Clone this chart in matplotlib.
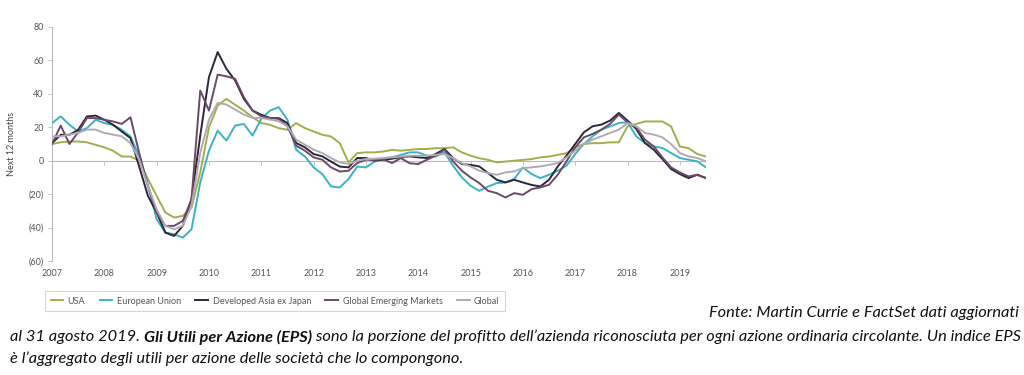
import matplotlib.pyplot as plt
import numpy as np
from matplotlib.ticker import FuncFormatter

# bimonthly observations, Jan 2007 .. mid 2019
dates = 2007 + np.arange(76) / 6.0

usa = [10, 11, 11.5, 11.5, 11, 9.5, 8, 6, 2.5, 2.5,
       0, -11, -21, -31, -34, -33, -28, -7, 20, 33,
       37, 33.5, 30, 26, 22.5, 21.5, 19.5, 18.5, 22.5, 19.5,
       17.5, 15.5, 14.5, 10.5, -1, 4.5, 5, 5, 5.5, 6.5,
       6, 6.5, 7, 7, 7.5, 7.5, 8, 5, 3, 1.5,
       0.5, -1, -0.5, 0, 0.5, 1, 2, 2.5, 3.5, 4.5,
       8, 10, 10.5, 10.5, 11, 11, 20.5, 22, 23.5, 23.5,
       23.5, 20.5, 8.5, 7.5, 4, 2.5]

eu = [22.5, 26.5, 21.5, 17.5, 19.5, 24.5, 22.5, 21.5, 18.5, 14.5,
      2.5, -15, -35, -43, -44, -46, -41, -13, 6, 18,
      12, 21, 22, 15, 25, 30, 32, 24.5, 6.5, 2.5,
      -4, -8, -15.4, -16, -11, -3.5, -4, -0.5, 1.5, 2,
      3.5, 5, 5, 3, 2.5, 5, -3, -10, -15, -18,
      -15.5, -13.4, -13, -11, -4, -8, -10.4, -8.4, -6, -3,
      4, 10, 14.6, 18.6, 20.5, 22.6, 23, 14.6, 10.6, 8.6,
      7.6, 4.6, 1.6, 0.6, -0.4, -4]

asia_ex_japan = [10.5, 15.5, 15.5, 18.5, 26.5, 27, 24.5, 21.5, 17.5, 13.5,
                 -3.5, -21, -31, -43, -45, -39, -23, 15, 50, 65,
                 55, 48, 37, 30, 27.5, 25.5, 25.5, 22.5, 10.6, 8,
                 4, 2.6, -0.5, -3.5, -4, 1.6, 1.6, 0, 0.6, 1.2,
                 2.2, 2.6, 2, 1.6, 4, 7, 1.6, -2, -2.5, -3.4,
                 -7.4, -11.4, -13, -11.4, -13, -14.5, -15.4, -11.4, -3.4, 3,
                 10, 17, 20.6, 21.6, 24, 28.6, 24, 19, 10.6, 6.6,
                 1, -5, -8, -10.4, -8.4, -10.4]

emerging = [10, 21, 10, 17, 25.5, 25.5, 24.5, 23.5, 22, 26,
            4.6, -15, -31, -39, -39, -36, -23, 42, 30, 51.5,
            50.5, 49, 38, 30, 26.6, 25.6, 25, 20.6, 9, 6,
            2, 0.6, -4, -6.5, -6, -1.4, 0.6, 0.5, 0.8, -1.4,
            1.6, -1.5, -2, 0.6, 3, 6.6, -0.4, -6, -10, -13.4,
            -18, -19.4, -22, -19.4, -20.4, -17, -16, -14.4, -8.4, -0.4,
            8, 14, 16, 18.6, 22, 27.6, 23, 20, 12.6, 8.6,
            2, -4, -7, -9.4, -8.4, -10.4]

world = [14.6, 14.6, 15.6, 16.6, 18.6, 18.6, 16.6, 15.6, 14.6, 10.6,
         0.6, -15, -29, -39, -41, -39, -27, 4.6, 24.6, 34.6,
         33.6, 30.6, 27.6, 25.6, 25.6, 24.6, 23.6, 20.6, 12.6, 9.6,
         6.6, 4.6, 1.6, -1, -2, 0, 1, 1.2, 1.6, 2,
         2.5, 3, 3, 3, 3.5, 4, 1.6, -1.5, -3.4, -6,
         -7.4, -8.4, -7, -6.4, -4.4, -4, -3.4, -2.5, -1.4, 2,
         6, 10, 12.6, 14.6, 16.6, 18.6, 22.5, 20.6, 16.6, 15.6,
         14, 10, 4.6, 2.6, 1.6, -0.4]

labels = ["USA", "European Union", "Developed Asia ex Japan",
          "Global Emerging Markets", "Global"]
colors = ["#a3ad4e", "#3bb3c3", "#2a2838", "#6b4a68", "#b3a9b6"]
series = [usa, eu, asia_ex_japan, emerging, world]
years = list(range(2007, 2020))
yticks = [-60, -40, -20, 0, 20, 40, 60, 80]

plt.rcParams['font.family'] = ['Lato', 'DejaVu Sans']

fig = plt.figure(figsize=(10.24, 3.75), dpi=100)
ax = fig.add_axes([52/1024, 1-261/375, 654/1024, 234/375])

ax.axhline(0, color="#bbbbbb", lw=0.8, zorder=1)
order = [0, 4, 1, 3, 2]
for i in order:
    ax.plot(dates, series[i], color=colors[i], lw=1.4, label=labels[i], zorder=2+i)

ax.set_xlim(2007, 2019.5)
ax.set_ylim(-60, 80)
ax.set_yticks(yticks)
ax.yaxis.set_major_formatter(FuncFormatter(lambda v, p: f"({abs(int(v))})" if v < 0 else f"{int(v)}"))
ax.set_xticks(years)
ax.set_xticklabels([str(y) for y in years])
ax.tick_params(axis='x', length=0, pad=6, labelsize=6.5, labelcolor="#555555")
ax.tick_params(axis='y', length=3, width=0.6, color="#bbbbbb", labelsize=6.5, labelcolor="#555555", pad=3)
for s in ['top', 'right', 'bottom']:
    ax.spines[s].set_visible(False)
ax.spines['left'].set_color("#bbbbbb")
ax.spines['left'].set_linewidth(0.8)
ax.set_ylabel("Next 12 months", fontsize=6.5, color="#444444", labelpad=9)

# small year ticks on the zero line
zero = ax.secondary_xaxis(60/140)
zero.set_xticks(years)
zero.set_xticklabels([])
zero.tick_params(length=3, width=0.6, color="#bbbbbb")
zero.spines['bottom'].set_visible(False)

handles, labs = ax.get_legend_handles_labels()
hmap = dict(zip(labs, handles))
leg = fig.legend([hmap[l] for l in labels], labels, loc='center',
                 bbox_to_anchor=(275/1024, 1-301/375), ncol=5, fontsize=6.5,
                 frameon=True, fancybox=False, shadow=False, handlelength=1.4,
                 handletextpad=0.5, columnspacing=1.6, borderpad=0.6)
leg.get_frame().set_edgecolor("#cccccc")
leg.get_frame().set_linewidth(0.8)
for t in leg.get_texts():
    t.set_color("#555555")

# caption
cap = dict(fontsize=11.8, style='italic', color="#111111", family=['Lato', 'DejaVu Sans'])
fig.text(1019/1024, 1-313/375, "Fonte: Martin Currie e FactSet dati aggiornati",
         ha='right', va='center', **cap)

renderer = fig.canvas.get_renderer()
pieces = [("al 31 agosto 2019. ", 'normal'),
          ("Gli Utili per Azione (EPS)", 'bold'),
          (" sono la porzione del profitto dell’azienda riconosciuta per ogni azione ordinaria circolante. Un indice EPS", 'normal')]
x = 10/1024
for txt, w in pieces:
    t = fig.text(x, 1-337/375, txt, ha='left', va='center', weight=w, **cap)
    bb = t.get_window_extent(renderer)
    x = bb.x1 / fig.bbox.width
fig.text(10/1024, 1-359/375, "è l’aggregato degli utili per azione delle società che lo compongono.",
         ha='left', va='center', **cap)

fig.savefig("out.png", dpi=100, facecolor="white")
